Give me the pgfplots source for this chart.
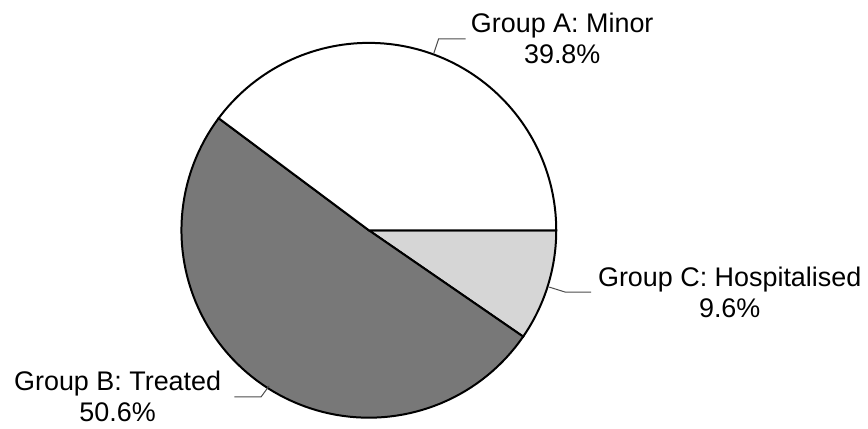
\documentclass[border=0pt]{standalone}
\usepackage{fontspec}
\setmainfont{Liberation Sans}
\usepackage{pgfplots}
\pgfplotsset{compat=1.18}

% shares in percent
\def\valA{39.8} % Group A: Minor
\def\valB{50.6} % Group B: Treated
\def\valC{9.6}  % Group C: Hospitalised

% pie centre and radius, in picture pixels
\def\cx{370}
\def\cy{231}
\def\rr{188}

\definecolor{sliceB}{gray}{0.47}
\definecolor{sliceC}{gray}{0.84}

\tikzset{
    % anchor=base sits on the last line of a two-line node
    pielabel/.style={font=\fontsize{13.5}{15.5}\selectfont, align=center, anchor=base},
    leader/.style={draw=black!70, line width=0.5pt},
}

\begin{document}
\begin{tikzpicture}
    % slices run clockwise from 3 o'clock: C, B, A
    \pgfmathsetmacro{\aC}{0}
    \pgfmathsetmacro{\aB}{\aC-3.6*\valC}
    \pgfmathsetmacro{\aA}{\aB-3.6*\valB}
    \pgfmathsetmacro{\aE}{\aA-3.6*\valA}
    \begin{axis}[
        width=434pt, height=215pt,
        scale only axis,
        xmin=0, xmax=868,
        ymin=0, ymax=430,
        y dir=reverse,
        hide axis,
        clip=false,
        every axis plot/.append style={line width=1pt, draw=black, samples=90, variable=\t},
    ]
        \path (rel axis cs:0,0) rectangle (rel axis cs:1,1);

        \addplot[fill=sliceC, domain=\aB:\aC]
            ({\cx+\rr*cos(t)}, {\cy-\rr*sin(t)}) -- (\cx,\cy) -- cycle;
        \addplot[fill=sliceB, domain=\aA:\aB]
            ({\cx+\rr*cos(t)}, {\cy-\rr*sin(t)}) -- (\cx,\cy) -- cycle;
        \addplot[fill=white, domain=\aE:\aA]
            ({\cx+\rr*cos(t)}, {\cy-\rr*sin(t)}) -- (\cx,\cy) -- cycle;

        \draw[leader] (435,54) -- (440,39) -- (467,39);
        \draw[leader] (551,288) -- (567,293) -- (593,293);
        \draw[leader] (270,387) -- (262,398) -- (235,398);

        \node[pielabel] at (564,64) {Group A: Minor\\\valA\%};
        \node[pielabel] at (732,318) {Group C: Hospitalised\\\valC\%};
        \node[pielabel] at (118,423) {Group B: Treated\\\valB\%};
    \end{axis}
\end{tikzpicture}
\end{document}
